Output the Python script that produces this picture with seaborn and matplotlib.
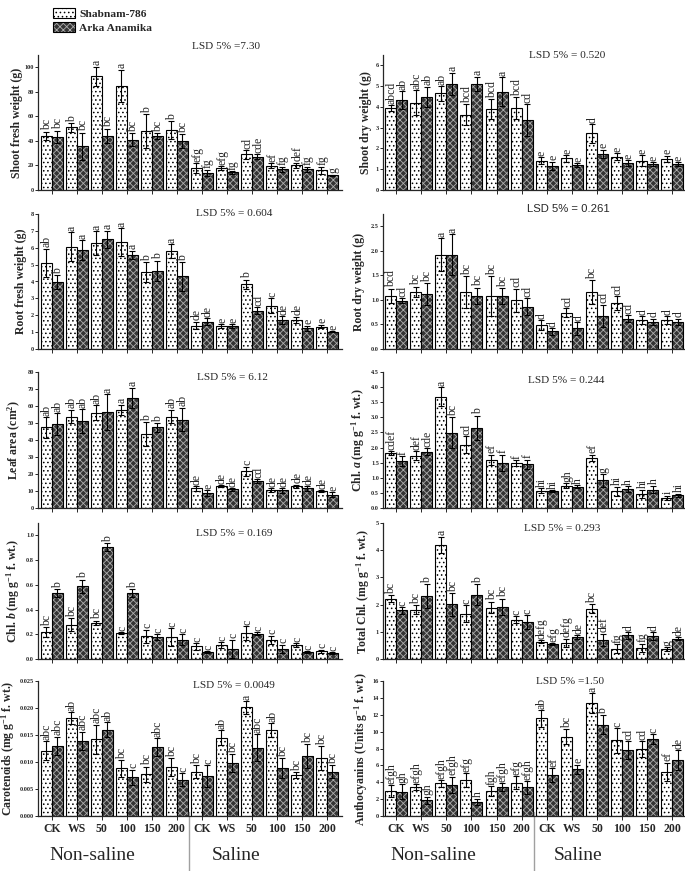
import matplotlib
matplotlib.use("Agg")
import matplotlib.pyplot as plt
import matplotlib.patches as mpatches
import matplotlib.ticker as mticker
import matplotlib.transforms as mtransforms
import numpy as np
import pandas as pd
import seaborn as sns

# ---------------- data ----------------
treatments = ['CK', 'WS', '50', '100', '150', '200', 'CK', 'WS', '50', '100', '150', '200']
soil = ['Non-saline'] * 6 + ['Saline'] * 6
cultivars = ['Shabnam-786', 'Arka Anamika']
group_ids = [f'{s}-{t}' for s, t in zip(soil, treatments)]

# Shoot fresh weight (g)
sfw_shab = [44, 51, 92.5, 85, 48, 48.8, 17.8, 17.8, 29, 19.7, 20.2, 16]
sfw_shab_sd = [3.5, 3.5, 8, 13, 14, 7.5, 4, 1.5, 3.5, 2, 2, 3]
sfw_arka = [43.4, 35.8, 44, 41, 44, 40, 13.7, 14.3, 27.2, 17, 17, 11.9]
sfw_arka_sd = [5, 11, 6, 5.5, 2.5, 5.5, 2.7, 1, 2, 2, 2, 0.7]
sfw_shab_let = ['bc', 'b', 'a', 'a', 'b', 'b', 'efg', 'efg', 'cd', 'ef', 'def', 'fg']
sfw_arka_let = ['bc', 'bc', 'bc', 'bc', 'bc', 'bc', 'fg', 'fg', 'cde', 'fg', 'fg', 'g']

# Shoot dry weight (g)
sdw_shab = [3.93, 4.2, 4.65, 3.63, 3.88, 3.93, 1.42, 1.53, 2.73, 1.61, 1.42, 1.49]
sdw_shab_sd = [0.15, 0.6, 0.35, 0.5, 0.48, 0.53, 0.16, 0.16, 0.45, 0.16, 0.27, 0.16]
sdw_arka = [4.33, 4.49, 5.1, 5.1, 4.73, 3.37, 1.17, 1.21, 1.74, 1.29, 1.25, 1.25]
sdw_arka_sd = [0.43, 0.48, 0.54, 0.35, 0.69, 0.77, 0.2, 0.08, 0.2, 0.15, 0.08, 0.08]
sdw_shab_let = ['abcd', 'abc', 'ab', 'bcd', 'bcd', 'bcd', 'e', 'e', 'd', 'e', 'e', 'e']
sdw_arka_let = ['ab', 'ab', 'a', 'a', 'a', 'cd', 'e', 'e', 'e', 'e', 'e', 'e']

# Root fresh weight (g)
rfw_shab = [5.09, 6.06, 6.28, 6.34, 4.55, 5.82, 1.39, 1.37, 3.84, 2.57, 1.72, 1.33]
rfw_shab_sd = [0.85, 0.87, 0.7, 0.83, 0.6, 0.4, 0.23, 0.1, 0.26, 0.43, 0.2, 0.1]
rfw_arka = [3.96, 5.86, 6.51, 5.58, 4.63, 4.3, 1.62, 1.37, 2.26, 1.72, 1.23, 1.03]
rfw_arka_sd = [0.4, 0.6, 0.5, 0.24, 0.6, 0.85, 0.2, 0.1, 0.2, 0.24, 0.14, 0.04]
rfw_shab_let = ['ab', 'a', 'a', 'a', 'b', 'a', 'de', 'e', 'b', 'c', 'de', 'e']
rfw_arka_let = ['b', 'a', 'a', 'a', 'b', 'b', 'de', 'e', 'cd', 'de', 'e', 'e']

# Root dry weight (g)
rdw_shab = [1.08, 1.16, 1.92, 1.16, 1.08, 0.99, 0.49, 0.74, 1.16, 0.93, 0.59, 0.59]
rdw_shab_sd = [0.15, 0.11, 0.34, 0.32, 0.4, 0.24, 0.1, 0.09, 0.24, 0.14, 0.08, 0.08]
rdw_arka = [0.98, 1.12, 1.92, 1.08, 1.08, 0.86, 0.36, 0.42, 0.67, 0.62, 0.55, 0.55]
rdw_arka_sd = [0.05, 0.22, 0.42, 0.17, 0.16, 0.17, 0.07, 0.13, 0.23, 0.07, 0.07, 0.07]
rdw_shab_let = ['bcd', 'bc', 'a', 'bc', 'bc', 'cd', 'd', 'cd', 'bc', 'cd', 'd', 'd']
rdw_arka_let = ['cd', 'bc', 'a', 'bc', 'bc', 'cd', 'd', 'd', 'cd', 'cd', 'd', 'd']

# Leaf area (cm2)
la_shab = [47.4, 53.8, 56, 57.7, 43.5, 53.8, 11.5, 12.8, 21.7, 10.5, 12.8, 10]
la_shab_sd = [6, 4, 4.5, 3, 7, 4, 1.5, 0.7, 2.6, 1, 1, 0.5]
la_arka = [49.4, 51, 56.5, 64.8, 47.4, 52, 8.9, 11, 15.8, 10.3, 11.5, 7.9]
la_arka_sd = [6.5, 7, 10.5, 6, 2.6, 7, 1.6, 0.8, 1, 1.5, 1.3, 1.5]
la_shab_let = ['ab', 'ab', 'ab', 'a', 'b', 'ab', 'de', 'de', 'c', 'de', 'de', 'de']
la_arka_let = ['ab', 'ab', 'a', 'a', 'b', 'ab', 'e', 'de', 'cd', 'de', 'de', 'e']

# Chl. a
cha_shab = [1.82, 1.73, 3.68, 2.1, 1.6, 1.49, 0.57, 0.74, 1.66, 0.55, 0.46, 0.33]
cha_shab_sd = [0.06, 0.14, 0.32, 0.28, 0.17, 0.1, 0.09, 0.09, 0.11, 0.15, 0.14, 0.08]
cha_arka = [1.55, 1.86, 2.49, 2.65, 1.49, 1.44, 0.55, 0.7, 0.91, 0.63, 0.61, 0.42]
cha_arka_sd = [0.16, 0.12, 0.52, 0.41, 0.28, 0.16, 0.03, 0.05, 0.2, 0.1, 0.13, 0.05]
cha_shab_let = ['cdef', 'def', 'a', 'cd', 'ef', 'f', 'hi', 'gh', 'ef', 'hi', 'hi', 'i']
cha_arka_let = ['f', 'cde', 'bc', 'b', 'f', 'f', 'hi', 'h', 'g', 'h', 'h', 'hi']

# Chl. b
chb_shab = [0.216, 0.278, 0.291, 0.21, 0.183, 0.178, 0.102, 0.113, 0.21, 0.156, 0.113, 0.062]
chb_shab_sd = [0.04, 0.054, 0.02, 0.005, 0.054, 0.07, 0.027, 0.022, 0.054, 0.032, 0.016, 0.013]
chb_arka = [0.534, 0.588, 0.906, 0.534, 0.178, 0.156, 0.054, 0.081, 0.205, 0.081, 0.054, 0.049]
chb_arka_sd = [0.032, 0.054, 0.032, 0.032, 0.024, 0.045, 0.008, 0.075, 0.011, 0.035, 0.008, 0.008]
chb_shab_let = ['bc', 'bc', 'bc', 'c', 'c', 'c', 'c', 'c', 'c', 'c', 'c', 'c']
chb_arka_let = ['b', 'b', 'b', 'b', 'c', 'c', 'c', 'c', 'c', 'c', 'c', 'c']

# Total Chl.
tch_shab = [2.22, 1.81, 4.2, 1.67, 1.89, 1.45, 0.63, 0.6, 1.85, 0.38, 0.4, 0.36]
tch_shab_sd = [0.12, 0.16, 0.3, 0.3, 0.21, 0.12, 0.06, 0.15, 0.16, 0.16, 0.16, 0.08]
tch_arka = [1.79, 2.32, 2.01, 2.37, 1.91, 1.36, 0.56, 0.81, 0.71, 0.87, 0.85, 0.75]
tch_arka_sd = [0.12, 0.43, 0.42, 0.38, 0.31, 0.24, 0.03, 0.06, 0.22, 0.12, 0.14, 0.06]
tch_shab_let = ['bc', 'bc', 'a', 'c', 'bc', 'c', 'defg', 'defg', 'bc', 'fg', 'fg', 'g']
tch_arka_let = ['c', 'b', 'bc', 'b', 'bc', 'c', 'efg', 'de', 'def', 'd', 'd', 'de']

# Carotenoids
car_shab = [0.0121, 0.0181, 0.0142, 0.0088, 0.0077, 0.0091, 0.0082, 0.0145, 0.0201, 0.0159, 0.0076, 0.0107]
car_shab_sd = [0.0017, 0.0011, 0.0027, 0.0015, 0.0014, 0.0016, 0.0012, 0.0014, 0.0012, 0.0013, 0.0005, 0.0022]
car_arka = [0.0130, 0.0139, 0.0160, 0.0072, 0.0128, 0.0067, 0.0074, 0.0098, 0.0126, 0.0089, 0.0111, 0.0082]
car_arka_sd = [0.0017, 0.0017, 0.0014, 0.0014, 0.0016, 0.0012, 0.002, 0.0017, 0.0025, 0.0018, 0.0022, 0.0012]
car_shab_let = ['abc', 'ab', 'abc', 'bc', 'bc', 'bc', 'bc', 'ab', 'a', 'ab', 'bc', 'bc']
car_arka_let = ['abc', 'abc', 'ab', 'c', 'abc', 'c', 'c', 'bc', 'abc', 'bc', 'bc', 'bc']

# Anthocyanins
ant_shab = [2.97, 3.4, 3.87, 4.26, 2.97, 3.95, 11.56, 9.41, 13.36, 8.95, 7.9, 5.23]
ant_shab_sd = [0.7, 0.35, 0.39, 0.78, 0.58, 0.78, 1.0, 0.9, 1.17, 1.45, 0.93, 1.1]
ant_arka = [2.89, 1.84, 3.67, 1.64, 3.4, 3.4, 4.84, 5.55, 10.82, 7.77, 9.14, 6.6]
ant_arka_sd = [0.86, 0.46, 0.98, 0.39, 0.47, 0.74, 0.86, 0.55, 1.13, 1.06, 0.59, 1.17]
ant_shab_let = ['efgh', 'efgh', 'efgh', 'efg', 'fgh', 'efg', 'ab', 'bc', 'a', 'c', 'cd', 'ef']
ant_arka_let = ['gh', 'gh', 'efgh', 'h', 'efgh', 'efgh', 'ef', 'e', 'b', 'cd', 'c', 'de']

lsd_texts = ['LSD 5% =7.30', 'LSD 5% = 0.520', 'LSD 5% = 0.604', 'LSD 5% = 0.261',
             'LSD 5% = 6.12', 'LSD 5% = 0.244', 'LSD 5% = 0.169', 'LSD 5% = 0.293',
             'LSD 5% = 0.0049', 'LSD 5% =1.50']

ylabels = ['Shoot fresh weight (g)', 'Shoot dry weight (g)',
           'Root fresh weight (g)', 'Root dry weight (g)',
           'Leaf area (cm$^2$)', 'Chl. $\\mathit{a}$ (mg g$^{-1}$ f. wt.)',
           'Chl. $\\mathit{b}$ (mg g$^{-1}$ f. wt.)', 'Total Chl. (mg g$^{-1}$ f. wt.)',
           'Carotenoids (mg g$^{-1}$ f. wt.)', 'Anthocyanins (Units g$^{-1}$ f. wt.)']

# ---------------- style ----------------
sns.set_style('ticks')
plt.rcParams['font.family'] = ['Liberation Serif', 'DejaVu Serif']
plt.rcParams['mathtext.fontset'] = 'custom'
plt.rcParams['mathtext.rm'] = 'Liberation Serif:bold'
plt.rcParams['mathtext.it'] = 'Liberation Serif:italic:bold'
plt.rcParams['mathtext.bf'] = 'Liberation Serif:bold'
plt.rcParams['hatch.linewidth'] = 0.6
plt.rcParams['axes.linewidth'] = 0.9

W, H = 685, 871
fig = plt.figure(figsize=(W / 100, H / 100), dpi=100)

rows_px = [(55, 190), (214, 349), (372, 508), (523, 659), (681, 816)]
cols_px = [(38, 342), (383, 685)]
xlims = [(-0.55, 11.6), (-0.52, 11.5)]

panels = [
    (sfw_shab, sfw_shab_sd, sfw_arka, sfw_arka_sd, sfw_shab_let, sfw_arka_let, (0, 110), np.arange(0, 101, 20), '%d'),
    (sdw_shab, sdw_shab_sd, sdw_arka, sdw_arka_sd, sdw_shab_let, sdw_arka_let, (0, 6.5), np.arange(0, 7, 1), '%d'),
    (rfw_shab, rfw_shab_sd, rfw_arka, rfw_arka_sd, rfw_shab_let, rfw_arka_let, (0, 8), np.arange(0, 9, 1), '%d'),
    (rdw_shab, rdw_shab_sd, rdw_arka, rdw_arka_sd, rdw_shab_let, rdw_arka_let, (0, 2.75), np.arange(0, 2.51, 0.5), '%.1f'),
    (la_shab, la_shab_sd, la_arka, la_arka_sd, la_shab_let, la_arka_let, (0, 80), np.arange(0, 81, 10), '%d'),
    (cha_shab, cha_shab_sd, cha_arka, cha_arka_sd, cha_shab_let, cha_arka_let, (0, 4.5), np.arange(0, 4.51, 0.5), '%.1f'),
    (chb_shab, chb_shab_sd, chb_arka, chb_arka_sd, chb_shab_let, chb_arka_let, (0, 1.1), np.arange(0, 1.01, 0.2), '%.1f'),
    (tch_shab, tch_shab_sd, tch_arka, tch_arka_sd, tch_shab_let, tch_arka_let, (0, 5), np.arange(0, 6, 1), '%d'),
    (car_shab, car_shab_sd, car_arka, car_arka_sd, car_shab_let, car_arka_let, (0, 0.025), np.arange(0, 0.0251, 0.005), '%.3f'),
    (ant_shab, ant_shab_sd, ant_arka, ant_arka_sd, ant_shab_let, ant_arka_let, (0, 16), np.arange(0, 17, 2), '%d'),
]

lsd_pos = [(0.62, 1.06), (0.61, 1.0), (0.645, 1.007), (0.614, 1.04), (0.64, 0.956),
           (0.606, 0.94), (0.645, 0.92), (0.594, 0.956), (0.643, 0.963), (0.62, 1.0)]
lsd_family = ['Liberation Serif'] * 3 + ['Liberation Sans'] + ['Liberation Serif'] * 6
ylabel_px = [23, 372, 27, 365, 23, 367, 22, 372, 17, 370]

dark_face = '#343434'
dark_hatch = (0.68, 0.68, 0.68, 1.0)


def style_white(p):
    p.set_facecolor('white')
    p.set_edgecolor('black')
    p.set_linewidth(0.8)
    p.set_hatch('....')


def style_dark(p):
    p.set_facecolor(dark_face)
    p.set_edgecolor('black')
    p.set_linewidth(0.8)
    p.set_hatch('xxxxx')
    p._hatch_color = dark_hatch


axes = []
for i, spec in enumerate(panels):
    shab, shab_sd, arka, arka_sd, shab_let, arka_let, ylim, yticks, fmt = spec
    r, c = divmod(i, 2)
    top, bot = rows_px[r]
    x0, x1 = cols_px[c]
    ax = fig.add_axes([x0 / W, 1 - bot / H, (x1 - x0) / W, (bot - top) / H])
    axes.append(ax)

    df = pd.DataFrame({
        'group': group_ids * 2,
        'cultivar': [cultivars[0]] * 12 + [cultivars[1]] * 12,
        'value': list(shab) + list(arka),
    })
    sns.barplot(data=df, x='group', y='value', hue='cultivar', order=group_ids,
                hue_order=cultivars, palette=['white', dark_face], saturation=1,
                width=0.88, gap=0, errorbar=None, legend=False, ax=ax)

    for cont, sds, lets, styler in zip(ax.containers, [shab_sd, arka_sd],
                                       [shab_let, arka_let], [style_white, style_dark]):
        xs, hs = [], []
        for p in cont:
            styler(p)
            xs.append(p.get_x() + p.get_width() / 2)
            hs.append(p.get_height())
        ax.errorbar(xs, hs, yerr=sds, fmt='none', ecolor='black', elinewidth=0.8,
                    capsize=2, capthick=0.8, zorder=3)
        for x, h, sd, l in zip(xs, hs, sds, lets):
            ax.annotate(l, (x, h + sd), xytext=(0.5, 1), textcoords='offset points',
                        rotation=90, ha='center', va='bottom', fontsize=8.5,
                        family='Liberation Serif', zorder=4)

    ax.set_xlim(*xlims[c])
    ax.set_ylim(*ylim)
    ax.set_yticks(yticks)
    ax.yaxis.set_major_formatter(mticker.FormatStrFormatter(fmt))
    ax.tick_params(axis='y', labelsize=4.5, length=2, width=0.7, pad=1)
    ax.tick_params(axis='x', length=3, width=0.7, pad=2, labelsize=8.5)
    for lab in ax.get_yticklabels():
        lab.set_fontweight('bold')
    ax.set_xlabel('')
    ax.set_ylabel(ylabels[i], fontsize=8.5, fontweight='bold', labelpad=0)
    ax.yaxis.set_label_coords((ylabel_px[i] - x0) / (x1 - x0), 0.5)
    sns.despine(ax=ax)

    ax.text(lsd_pos[i][0], lsd_pos[i][1], lsd_texts[i], transform=ax.transAxes,
            ha='center', va='center', fontsize=8.1, family=lsd_family[i])

    if r < 4:
        ax.set_xticklabels([])
    else:
        ax.set_xticklabels(treatments, fontweight='bold')
        trans = mtransforms.blended_transform_factory(ax.transData, ax.transAxes)
        ax.plot([5.5, 5.5], [0.03, (816 - 871) / 135], transform=trans, color='#a0a0a0',
                lw=1.0, clip_on=False)
        centers = [(1.61, 7.37), (1.5, 7.26)][c]
        for xc, name in zip(centers, ['Non-saline', 'Saline']):
            ax.text(xc, -0.29, name, transform=trans, ha='center', va='center',
                    fontsize=14, family='Liberation Serif')

# legend
h_white = mpatches.Patch(facecolor='white', edgecolor='black', hatch='....', linewidth=0.8,
                         label=cultivars[0])
h_dark = mpatches.Patch(facecolor=dark_face, edgecolor='black', hatch='xxxxx', linewidth=0.8,
                        label=cultivars[1])
h_dark._hatch_color = dark_hatch
fig.legend(handles=[h_white, h_dark], loc='upper left', bbox_to_anchor=(47 / W, 1 - 2 / H),
           frameon=False, borderpad=0, handlelength=1.95, handleheight=1.0,
           labelspacing=0.25, handletextpad=0.4,
           prop={'family': 'Liberation Serif', 'weight': 'bold', 'size': 8.2})

fig.savefig('out.png', dpi=100)
